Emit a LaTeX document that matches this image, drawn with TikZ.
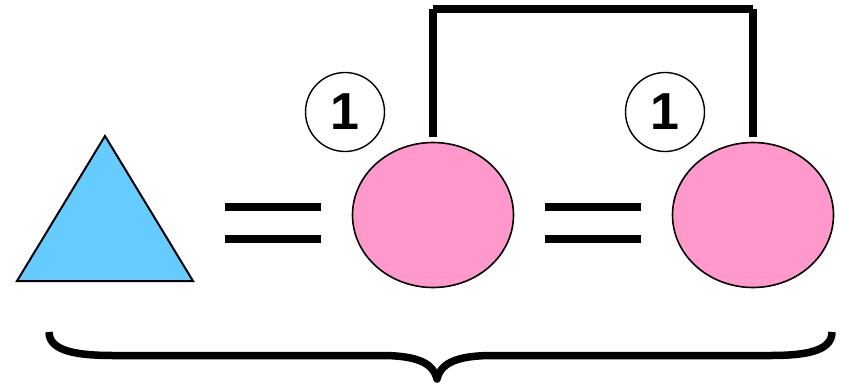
\documentclass[tikz,border=0pt]{standalone}
\usepackage{fontspec}
\setmainfont{Liberation Sans}
\usetikzlibrary{shapes.geometric}
\definecolor{triblue}{HTML}{66CCFF}
\definecolor{ovalpink}{HTML}{FF99CC}
\tikzset{
  oval/.style={ellipse, draw=black, fill=ovalpink, line width=1.6pt,
    minimum width=161pt, minimum height=145pt, inner sep=0pt},
  numcirc/.style={circle, draw=black, fill=white, line width=1.4pt,
    minimum size=79pt, inner sep=0pt, font=\fontsize{52}{52}\selectfont\bfseries},
  bar/.style={line width=8pt},
  link/.style={line width=7.5pt},
  bracestroke/.style={line width=7.5pt, line join=round}
}
\begin{document}
\begin{tikzpicture}[x=1pt,y=-1pt]
\useasboundingbox (0,0) rectangle (850,385);
\fill[white] (0,0) rectangle (850,385);
% triangle
\draw[line width=2pt, fill=triblue, line join=miter] (17,281) -- (105,136) -- (193,281) -- cycle;
% equals signs
\draw[bar] (225,207) -- (321,207);
\draw[bar] (225,239) -- (321,239);
\draw[bar] (545,207) -- (641,207);
\draw[bar] (545,239) -- (641,239);
% ovals
\node[oval] (e1) at (433,215) {};
\node[oval] (e2) at (753,215) {};
% numbered circles
\node[numcirc] (c1) at (345,112) {1};
\node[numcirc] (c2) at (665,112) {1};
% bracket linking the ovals
\coordinate (t1) at (433,9);
\coordinate (t2) at (753,9);
\draw[link] ([yshift=5pt]e1.north) -- (t1);
\draw[link] (t1) -- (t2);
\draw[link] ([yshift=5pt]e2.north) -- (t2);
% brace
\draw[bracestroke] (49,332) .. controls (49,352) and (80,355.5) .. (113,355.5)
  -- (381,355.5) .. controls (415,355.5) and (433,362) .. (437,379)
  .. controls (441,362) and (459,355.5) .. (493,355.5)
  -- (770,355.5) .. controls (803,355.5) and (832,352) .. (832,332);
\end{tikzpicture}
\end{document}
